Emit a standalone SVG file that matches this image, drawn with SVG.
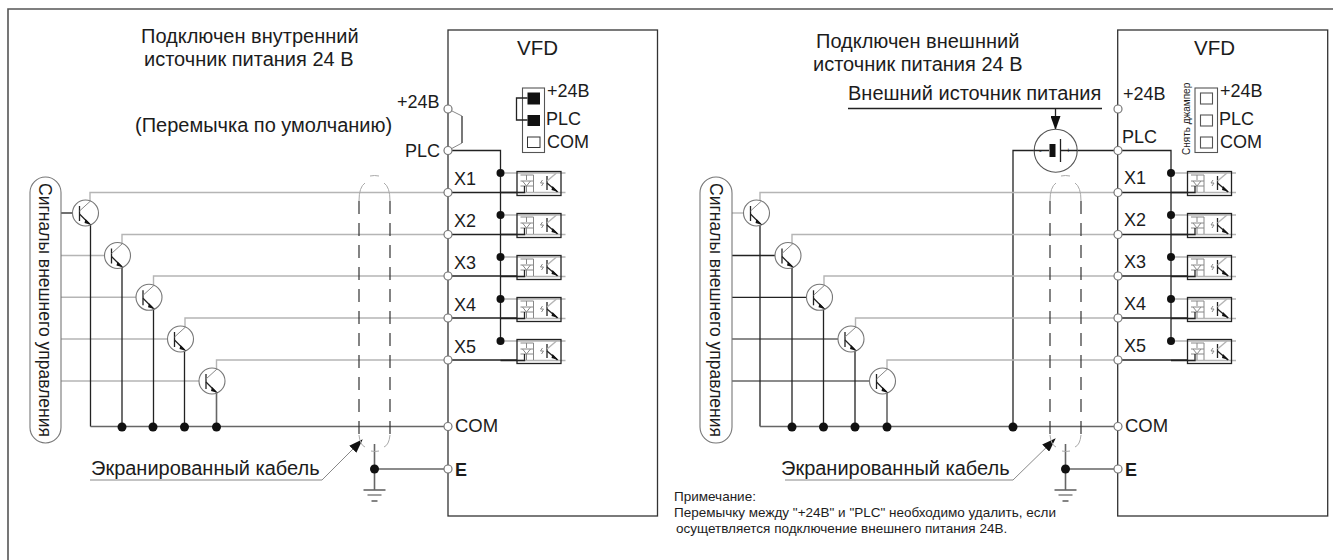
<svg xmlns="http://www.w3.org/2000/svg" width="1333" height="560" viewBox="0 0 1333 560">
<style>
text{font-family:"Liberation Sans",Arial,sans-serif;fill:#1c1c1c}
.t20{font-size:20px}.t18{font-size:18px}.t17{font-size:17.500px}
.bd{fill:none;stroke:#333;stroke-width:1.3}
.dk{fill:none;stroke:#222;stroke-width:1.3}
.md{fill:none;stroke:#666;stroke-width:1.6}
.gr{fill:none;stroke:#b5b5b5;stroke-width:1.4}
.th{fill:none;stroke:#555;stroke-width:1.1}
.of{fill:none;stroke:#888;stroke-width:1}
.dash{fill:none;stroke:#333;stroke-width:1.2;stroke-dasharray:13 9}
.lt{fill:none;stroke:#aaa;stroke-width:1}
.dot{fill:#111}
.term{fill:#fff;stroke:#777;stroke-width:1.2}
</style>
<defs>
<marker id="arr" markerUnits="userSpaceOnUse" markerWidth="14" markerHeight="10" refX="13" refY="5" orient="auto"><path d="M0 0L14 5L0 10Z" fill="#111"/></marker>
<g id="opto">
<path class="gr" d="M0 0H65"/>
<path class="gr" d="M16 19.500H65"/>
<rect x="16.500" y="-1.500" width="44" height="24" class="dk"/>
<path class="of" d="M20 2H33V19M26 2V7M20 8H33M22 8L26 13L30 8M20 13H33M26 13V19"/>
<path class="dk" d="M0 19.500H24V13"/>
<path class="of" d="M42 7L40 10L43 10L41 13"/>
<path class="dk" d="M46.500 3V17"/>
<path class="gr" d="M46.500 8L56 0"/>
<path class="dk" d="M46.500 10L57 19"/>
<path d="M52 13L58 19L51 17Z" fill="#111"/>
</g>
<g id="npn">
<circle r="13" fill="#fff" stroke="#777" stroke-width="1.1"/>
<path class="dk" d="M-6 -7V8"/>
<path class="of" d="M-6 -2L5 -12"/>
<path class="dk" d="M-6 1L4 11"/>
<path d="M0 6L6 12L-1 10Z" fill="#111"/>
</g>
<g id="gnd">
<path class="md" d="M-11 0H11"/><path class="th" d="M-7 5H7"/><path class="md" d="M-3 11H3"/>
</g>
<g id="shield">
<path class="lt" d="M0 24Q0 10 6 6M31 24Q31 10 25 6M11 -1Q15.500 -2 20 -1"/>
<path class="dash" d="M0 24V260M31 24V260"/>
<path class="lt" d="M0 258Q1 268 6 270M31 258Q30 268 25 270M12 274Q15.500 275 20 274"/>
</g>
</defs>
<path id="frame" d="M1333 9H8V560" fill="none" stroke="#555" stroke-width="1.6"/>

<g id="connectors">
<path class="of" d="M448 109L462 116V143L448 150.500"/>
<path class="md" d="M462 116V143"/>
<path class="dk" d="M448 150.500H500.500V341"/>
<path class="gr" d="M90 213V192.500H448M122 255V234.500H448M153.500 297V276H448M185 339V318H448M216.500 381V360H448"/>
<path class="dk" d="M61 213H79"/>
<path class="gr" d="M61 255.500H111M61 297.300H143M61 339H174M61 381H206"/>
<path class="dk" d="M90.500 222V426.500M122 264V426.500M153.500 306V426.500M184.500 348V426.500"/>
<path class="md" d="M216.500 390V426.500M90.500 426.500H448"/>
<path class="md" d="M374.500 444V490M374.500 469H448"/>
<path class="dk" d="M1013 426.500V150.500H1034M1077 150.500H1171V341"/>
<path class="gr" d="M732 213H751"/>
<path class="gr" d="M760 200V192.500H1118M792 255V234.500H1118M824 297V276H1118M855.500 339V318H1118M887 381V360H1118"/>
<path class="dk" d="M732 255.500H783M732 297.300H814"/>
<path class="md" d="M732 339H845M732 381H876"/>
<path class="dk" d="M760 222V426.500M792 264V426.500M823.500 306V426.500M855 348V426.500"/>
<path class="md" d="M887 390V426.500M760 426.500H1118"/>
<path class="md" d="M1065.500 444V490M1065.500 469H1118"/>
<path class="dk" d="M848 108.500H1102"/>
<path class="dk" d="M1055.500 108.500V129" marker-end="url(#arr)"/>
<path class="of" d="M90 480H322L362 440" marker-end="url(#arr)"/>
<path class="of" d="M785 480H1013L1055 439" marker-end="url(#arr)"/>
</g>

<g id="panel-left">
<g id="vfd-left"><rect x="448" y="30" width="209.500" height="486" class="bd"/></g>
<text x="517" y="55" style="font-size:20.500px">VFD</text>
<text x="141" y="43" class="t20">Подключен внутренний</text>
<text x="144" y="66" class="t20">источник питания 24 В</text>
<text x="135" y="132" class="t20">(Перемычка по умолчанию)</text>
<g id="signals-left"><rect x="30" y="177" width="31" height="266" rx="15.500" fill="#fff" stroke="#777" stroke-width="1.1"/>
<text transform="translate(39,183) rotate(90)" style="font-size:17.500px">Сигналы внешнего управления</text></g>
<use href="#npn" x="85.500" y="213"/><use href="#npn" x="117.500" y="255.500"/><use href="#npn" x="149" y="297.300"/><use href="#npn" x="180.500" y="339"/><use href="#npn" x="212" y="381"/>
<use href="#shield" x="359" y="177"/>
<use href="#gnd" x="374.500" y="490"/>
<g id="block-left"><rect x="522.500" y="88" width="22" height="64.500" class="th"/>
<rect x="527.500" y="92.500" width="12.500" height="12" fill="#111"/><rect x="527.500" y="115" width="12.500" height="11" fill="#111"/><rect x="527.500" y="137" width="12.500" height="10.500" fill="none" stroke="#333"/>
<path class="dk" d="M527.500 98H516.500V120H527.500"/>
<text x="547" y="97" class="t18">+24В</text><text x="546" y="125" class="t18">PLC</text><text x="547" y="148" class="t18">COM</text></g>
<use href="#opto" x="500.500" y="173"/><use href="#opto" x="500.500" y="215"/><use href="#opto" x="500.500" y="257"/><use href="#opto" x="500.500" y="299"/><use href="#opto" x="500.500" y="341"/>
<path class="dk" d="M448 192.500H517M448 234.500H517M448 276H517M448 318H517M448 360H517"/>
<g id="dots-left" class="dot"><circle cx="500.500" cy="173" r="4"/><circle cx="500.500" cy="215" r="4"/><circle cx="500.500" cy="257" r="4"/><circle cx="500.500" cy="299" r="4"/><circle cx="500.500" cy="341" r="4"/>
<circle cx="122" cy="427" r="4.500"/><circle cx="153" cy="427" r="4.500"/><circle cx="184.500" cy="427" r="4.500"/><circle cx="216.500" cy="427" r="4.500"/><circle cx="374.500" cy="469" r="4.500"/></g>
<g id="terms-left" class="term"><circle cx="448" cy="109" r="4"/><circle cx="448" cy="150.500" r="4"/><circle cx="448" cy="192.500" r="4"/><circle cx="448" cy="234.500" r="4"/><circle cx="448" cy="276" r="4"/><circle cx="448" cy="318" r="4"/><circle cx="448" cy="360" r="4"/><circle cx="448" cy="426.500" r="4"/><circle cx="448" cy="469" r="4"/></g>
<text x="397" y="108" class="t18">+24В</text><text x="405" y="157" class="t18">PLC</text>
<text x="454" y="185" class="t18">X1</text><text x="454" y="227" class="t18">X2</text><text x="454" y="269" class="t18">X3</text><text x="454" y="311" class="t18">X4</text><text x="454" y="353" class="t18">X5</text>
<text x="455" y="432" style="font-size:18.500px">COM</text><text x="455" y="476" class="t18" font-weight="bold">E</text>
<text x="91" y="475" class="t20">Экранированный кабель</text>
</g>

<g id="panel-right">
<g id="vfd-right"><rect x="1117.700" y="30" width="210" height="486" class="bd"/></g>
<text x="1194" y="55" style="font-size:20.500px">VFD</text>
<text x="816" y="48" class="t20">Подключен внешнний</text>
<text x="813" y="71" class="t20">источник питания 24 В</text>
<text x="848" y="100" class="t20">Внешний источник питания</text>
<g id="signals-right"><rect x="700" y="177" width="32" height="266" rx="16" fill="#fff" stroke="#777" stroke-width="1.1"/>
<text transform="translate(710,183) rotate(90)" style="font-size:17.500px">Сигналы внешнего управления</text></g>
<use href="#npn" x="756.500" y="213"/><use href="#npn" x="788" y="255.500"/><use href="#npn" x="819.500" y="297.300"/><use href="#npn" x="851" y="339"/><use href="#npn" x="882.500" y="381"/>
<use href="#shield" x="1050" y="177"/>
<use href="#gnd" x="1065.500" y="490"/>
<g id="source"><circle cx="1055.700" cy="150.700" r="21.500" fill="#fff" stroke="#555" stroke-width="1.1"/>
<path class="dk" d="M1034 150.500H1049M1061 150.500H1077M1060.500 139V162"/>
<rect x="1049.500" y="144" width="6" height="13" fill="#111"/>
<text x="1039" y="153" style="font-size:8px">-</text><text x="1066" y="153" style="font-size:8px">+</text></g>
<g id="block-right"><rect x="1195" y="88" width="22.500" height="64.500" class="th"/>
<rect x="1200.500" y="93" width="12" height="11" class="th"/><rect x="1200.500" y="115" width="12" height="11" class="th"/><rect x="1200.500" y="137" width="12" height="11" class="th"/>
<text transform="translate(1189.500,155) rotate(-90)" style="font-size:10px">Снять джампер</text>
<text x="1220" y="97" class="t18">+24В</text><text x="1219" y="125" class="t18">PLC</text><text x="1220" y="148" class="t18">COM</text></g>
<use href="#opto" x="1171" y="173"/><use href="#opto" x="1171" y="215"/><use href="#opto" x="1171" y="257"/><use href="#opto" x="1171" y="299"/><use href="#opto" x="1171" y="341"/>
<path class="dk" d="M1118 192.500H1187M1118 234.500H1187M1118 276H1187M1118 318H1187M1118 360H1187"/>
<g id="dots-right" class="dot"><circle cx="1171" cy="173" r="4"/><circle cx="1171" cy="215" r="4"/><circle cx="1171" cy="257" r="4"/><circle cx="1171" cy="299" r="4"/><circle cx="1171" cy="341" r="4"/>
<circle cx="792" cy="427" r="4.500"/><circle cx="823.500" cy="427" r="4.500"/><circle cx="855" cy="427" r="4.500"/><circle cx="887" cy="427" r="4.500"/><circle cx="1013" cy="427" r="4.500"/><circle cx="1065.500" cy="469" r="4.500"/></g>
<g id="terms-right" class="term"><circle cx="1118" cy="109" r="4"/><circle cx="1118" cy="150.500" r="4"/><circle cx="1118" cy="192.500" r="4"/><circle cx="1118" cy="234.500" r="4"/><circle cx="1118" cy="276" r="4"/><circle cx="1118" cy="318" r="4"/><circle cx="1118" cy="360" r="4"/><circle cx="1118" cy="426.500" r="4"/><circle cx="1118" cy="469" r="4"/></g>
<text x="1123" y="100" class="t18">+24В</text><text x="1122" y="143" class="t18">PLC</text>
<text x="1124" y="184" class="t18">X1</text><text x="1124" y="226" class="t18">X2</text><text x="1124" y="268" class="t18">X3</text><text x="1124" y="310" class="t18">X4</text><text x="1124" y="352" class="t18">X5</text>
<text x="1125" y="432" style="font-size:18.500px">COM</text><text x="1125" y="476" class="t18" font-weight="bold">E</text>
<text x="781" y="475" class="t20">Экранированный кабель</text>
<g id="note" style="font-size:13.500px"><text x="674" y="501">Примечание:</text>
<text x="674" y="517">Перемычку между "+24В" и "PLC" необходимо удалить, если</text>
<text x="676" y="533">осущетвляется подключение внешнего питания 24В.</text></g>
</g>
</svg>
